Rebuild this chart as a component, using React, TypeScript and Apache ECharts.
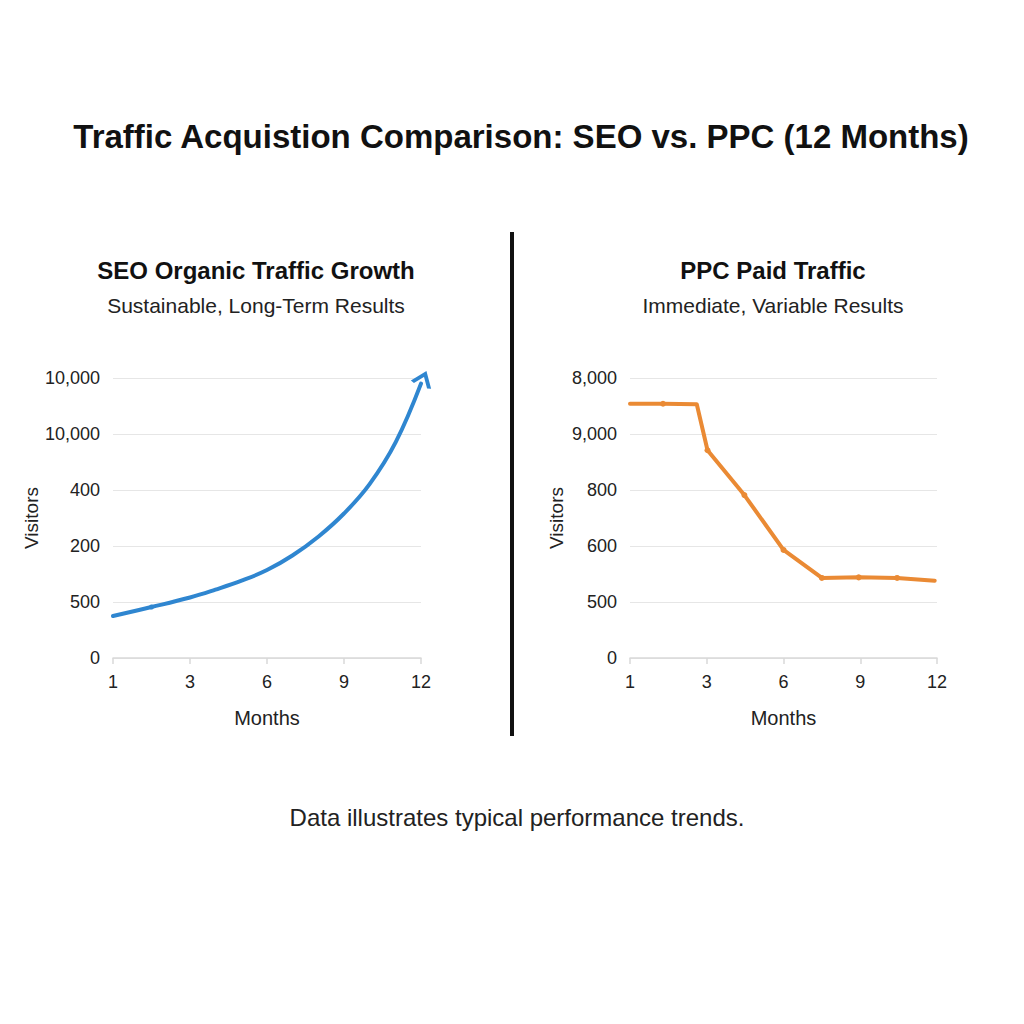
import React, { useEffect, useRef } from "react";
import * as echarts from "echarts";

// Tick labels (bottom to top for y; left to right for x)
const monthTicks = ["1", "3", "6", "9", "12"];
const seoYLabels = ["0", "500", "200", "400", "10,000", "10,000"];
const ppcYLabels = ["0", "500", "600", "800", "9,000", "8,000"];

// SEO series: x position in tick-index units, value in tick-index units
const seoX = [0, 0.5, 1, 1.33, 1.67, 2, 2.33, 2.67, 3, 3.33, 3.67, 4];
const seoY = [0.75, 0.91, 1.08, 1.22, 1.38, 1.57, 1.83, 2.17, 2.58, 3.1, 3.85, 4.9];
const seoMarker = [false, true, false, false, false, false, false, false, false, false, false, false];

// PPC series
const ppcX = [0, 0.43, 0.87, 1.01, 1.49, 2.0, 2.5, 2.98, 3.48, 3.97];
const ppcY = [4.54, 4.54, 4.53, 3.71, 2.91, 1.93, 1.43, 1.44, 1.43, 1.38];
const ppcMarker = [false, true, false, true, true, true, true, true, true, false];

const BLUE = "#2f86d0";
const ORANGE = "#ea8a34";
const FONT = "Liberation Sans, Arial, sans-serif";

export default function App() {
  const ref = useRef<HTMLDivElement>(null);
  useEffect(() => {
    if (!ref.current) return;
    const chart = echarts.init(ref.current, undefined, { renderer: "svg" });

    const xAxisBase = (gridIndex: number) => ({
      gridIndex,
      type: "value" as const,
      min: 0,
      max: 4,
      interval: 1,
      name: "Months",
      nameLocation: "middle" as const,
      nameGap: 50,
      nameTextStyle: { fontSize: 20, color: "#222", fontFamily: FONT },
      axisLine: { show: true, lineStyle: { color: "#d9d9d9", width: 1.5 } },
      axisTick: { show: true, length: 6, lineStyle: { color: "#d9d9d9", width: 1.5 } },
      splitLine: { show: false },
      axisLabel: {
        fontSize: 18,
        color: "#222",
        fontFamily: FONT,
        margin: 15,
        formatter: (v: number) => monthTicks[Math.round(v)] ?? "",
      },
    });

    const yAxisBase = (gridIndex: number, labels: string[], nameGap: number) => ({
      gridIndex,
      type: "value" as const,
      min: 0,
      max: 5,
      interval: 1,
      name: "Visitors",
      nameLocation: "middle" as const,
      nameGap,
      nameTextStyle: { fontSize: 19, color: "#222", fontFamily: FONT },
      axisLine: { show: false },
      axisTick: { show: false },
      splitLine: { show: true, lineStyle: { color: "#e6e6e6", width: 1.2 } },
      axisLabel: {
        fontSize: 18,
        color: "#222",
        fontFamily: FONT,
        margin: 13,
        formatter: (v: number) => labels[Math.round(v)] ?? "",
      },
    });

    const seoData = seoX.map((x, i) => {
      if (i === seoX.length - 1) {
        return {
          value: [x, seoY[i]],
          symbol: "path://M0,10 L7,0 L14,10",
          symbolSize: [18, 12],
          symbolRotate: -22,
          symbolOffset: [2, -4],
          itemStyle: { color: "rgba(0,0,0,0)", borderColor: BLUE, borderWidth: 3.5 },
        };
      }
      return { value: [x, seoY[i]], symbolSize: seoMarker[i] ? 5 : 0 };
    });

    const ppcData = ppcX.map((x, i) => ({
      value: [x, ppcY[i]],
      symbolSize: ppcMarker[i] ? 6 : 0,
    }));

    chart.setOption({
      animation: false,
      backgroundColor: "#ffffff",
      title: [
        {
          text: "Traffic Acquistion Comparison: SEO vs. PPC (12 Months)",
          left: 516,
          top: 115,
          textAlign: "center",
          textStyle: { fontSize: 33, fontWeight: "bold", color: "#111", fontFamily: FONT },
        },
        {
          text: "SEO Organic Traffic Growth",
          subtext: "Sustainable, Long-Term Results",
          left: 251,
          top: 253,
          textAlign: "center",
          itemGap: 13,
          textStyle: { fontSize: 24, fontWeight: "bold", color: "#111", fontFamily: FONT },
          subtextStyle: { fontSize: 21, color: "#222", fontFamily: FONT },
        },
        {
          text: "PPC Paid Traffic",
          subtext: "Immediate, Variable Results",
          left: 768,
          top: 253,
          textAlign: "center",
          itemGap: 13,
          textStyle: { fontSize: 24, fontWeight: "bold", color: "#111", fontFamily: FONT },
          subtextStyle: { fontSize: 21, color: "#222", fontFamily: FONT },
        },
        {
          text: "Data illustrates typical performance trends.",
          left: 512,
          top: 800,
          textAlign: "center",
          textStyle: { fontSize: 24, fontWeight: "normal", color: "#222", fontFamily: FONT },
        },
      ],
      grid: [
        { left: 113, top: 378, width: 308, height: 280 },
        { left: 630, top: 378, width: 307, height: 280 },
      ],
      xAxis: [xAxisBase(0), xAxisBase(1)],
      yAxis: [yAxisBase(0, seoYLabels, 66), yAxisBase(1, ppcYLabels, 64)],
      series: [
        {
          type: "line",
          name: "SEO",
          xAxisIndex: 0,
          yAxisIndex: 0,
          smooth: 0.4,
          showAllSymbol: true,
          symbol: "circle",
          data: seoData,
          lineStyle: { color: BLUE, width: 4, cap: "round" },
          itemStyle: { color: BLUE },
        },
        {
          type: "line",
          name: "PPC",
          xAxisIndex: 1,
          yAxisIndex: 1,
          showAllSymbol: true,
          symbol: "circle",
          data: ppcData,
          lineStyle: { color: ORANGE, width: 4, cap: "round", join: "round" },
          itemStyle: { color: ORANGE },
        },
      ],
      graphic: [
        {
          type: "line",
          shape: { x1: 512, y1: 232, x2: 512, y2: 736 },
          style: { stroke: "#111", lineWidth: 4 },
        },
      ],
    });

    return () => chart.dispose();
  }, []);

  return (
    <div
      ref={ref}
      style={{ position: "fixed", left: 0, top: 0, width: 1024, height: 1024, background: "#fff" }}
    />
  );
}
